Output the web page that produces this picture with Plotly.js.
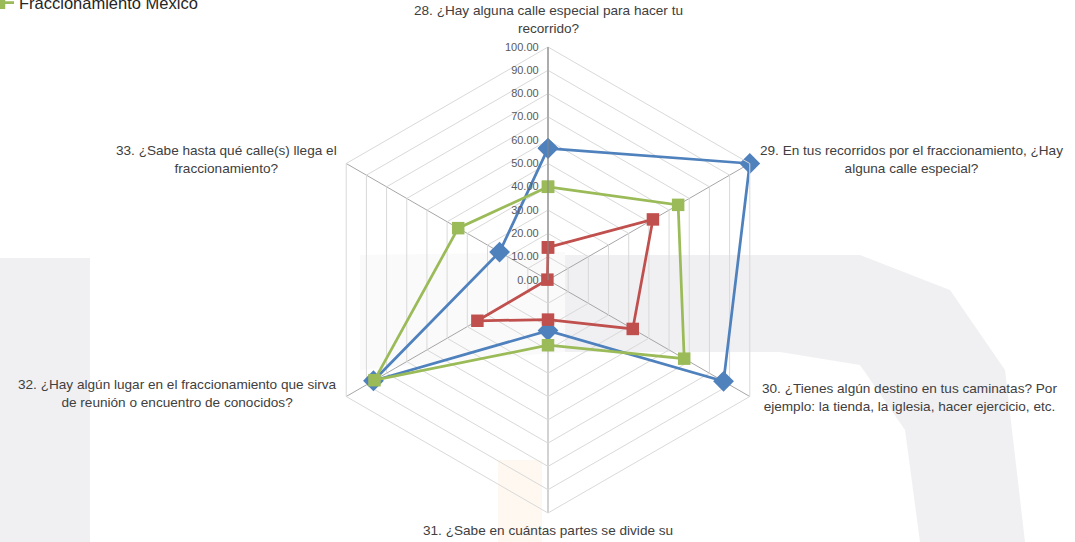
<!DOCTYPE html>
<html>
<head>
<meta charset="utf-8">
<script src="https://cdn.plot.ly/plotly-3.0.1.min.js"></script>
<style>html,body{margin:0;padding:0;background:#fff;}#chart{width:1075px;height:542px;}</style>
</head>
<body>
<div id="chart"></div>
<script>
// ---- data ----
const categories = [
  "28. ¿Hay alguna calle especial para hacer tu<br>recorrido?",
  "29. En tus recorridos por el fraccionamiento, ¿Hay<br>alguna calle especial?",
  "30. ¿Tienes algún destino en tus caminatas? Por<br>ejemplo: la tienda, la iglesia, hacer ejercicio, etc.",
  "31. ¿Sabe en cuántas partes se divide su",
  "32. ¿Hay algún lugar en el fraccionamiento que sirva<br>de reunión o encuentro de conocidos?",
  "33. ¿Sabe hasta qué calle(s) llega el<br>fraccionamiento?"
];
const seriesBlue  = [56.5, 100, 87, 21.7, 86.5, 24];
const seriesRed   = [14, 52, 42, 17, 35, 0.3];
const seriesGreen = [40, 64.5, 67.5, 28, 86, 44.5];
const greenName = "Fraccionamiento México";
const radialTicks = [0,10,20,30,40,50,60,70,80,90,100];

// ---- layout geometry ----
const W = 1075, H = 542;
const cx = 548, cy = 280, R = 233;

function closed(a){ return a.concat([a[0]]); }

const traces = [
  {type:'scatterpolar', mode:'lines+markers', r:closed(seriesBlue), theta:closed(categories),
   line:{color:'#4F81BD', width:2.75}, marker:{symbol:'diamond', size:16, color:'#4F81BD'},
   showlegend:false, name:'Serie 1', cliponaxis:false},
  {type:'scatterpolar', mode:'lines+markers', r:closed(seriesRed), theta:closed(categories),
   line:{color:'#C0504D', width:2.75}, marker:{symbol:'square', size:12.5, color:'#C0504D'},
   showlegend:false, name:'Serie 2', cliponaxis:false},
  {type:'scatterpolar', mode:'lines+markers', r:closed(seriesGreen), theta:closed(categories),
   line:{color:'#9BBB59', width:2.75}, marker:{symbol:'square', size:12.5, color:'#9BBB59'},
   showlegend:true, name:greenName, cliponaxis:false}
];

// label placement around the hexagon
const labelSpec = [
  {dx:0,   dy:-R-9,  xa:'center', ya:'bottom'},
  {dx:R*0.866+8, dy:-R*0.5-4, xa:'left', ya:'middle'},
  {dx:R*0.866+10, dy:R*0.5+1, xa:'left', ya:'middle'},
  {dx:0,   dy:R+8,  xa:'center', ya:'top'},
  {dx:-R*0.866-7, dy:R*0.5-3, xa:'right', ya:'middle'},
  {dx:-R*0.866-7, dy:-R*0.5-4, xa:'right', ya:'middle'}
];
const annotations = categories.map((c,i)=>({
  text:c, showarrow:false, xref:'paper', yref:'paper',
  x:(cx+labelSpec[i].dx)/W, y:1-(cy+labelSpec[i].dy)/H,
  xanchor:labelSpec[i].xa, yanchor:labelSpec[i].ya, align:'center',
  font:{family:'Liberation Sans, Arial, sans-serif', size:13.6, color:'#404040'}
}));

// faint background watermark (decorative)
function px(x){ return x/W; } function py(y){ return 1-y/H; }
function pathOf(pts){ return 'M' + pts.map(p=>px(p[0]).toFixed(4)+','+py(p[1]).toFixed(4)).join(' L') + ' Z'; }
const shapes = [
  {type:'rect', xref:'paper', yref:'paper', x0:px(0), x1:px(90), y0:py(542), y1:py(258),
   fillcolor:'rgba(205,205,215,0.30)', line:{width:0}, layer:'below'},
  {type:'path', xref:'paper', yref:'paper', layer:'below', line:{width:0},
   fillcolor:'rgba(200,200,212,0.28)',
   path:pathOf([[565,255],[860,255],[950,290],[1005,370],[1025,542],[920,542],[905,430],[860,365],[780,352],[565,352]])},
  {type:'path', xref:'paper', yref:'paper', layer:'below', line:{width:0},
   fillcolor:'rgba(215,215,225,0.12)',
   path:pathOf([[360,255],[565,252],[565,352],[470,360],[360,370]])},
  {type:'rect', xref:'paper', yref:'paper', x0:px(498), x1:px(542), y0:py(542), y1:py(460),
   fillcolor:'rgba(255,190,110,0.10)', line:{width:0}, layer:'below'}
];

const layout = {
  width:W, height:H,
  margin:{l:0,r:0,t:0,b:0, autoexpand:false},
  paper_bgcolor:'#ffffff',
  font:{family:'Liberation Sans, Arial, sans-serif', color:'#404040'},
  showlegend:true,
  legend:{x:-21/W, y:1-3/H, xanchor:'left', yanchor:'middle',
          font:{size:16.5, color:'#262626'}, bgcolor:'rgba(0,0,0,0)'},
  annotations:annotations,
  shapes:shapes,
  polar:{
    domain:{x:[(cx-R)/W,(cx+R)/W], y:[1-(cy+R)/H, 1-(cy-R)/H]},
    gridshape:'linear',
    bgcolor:'rgba(0,0,0,0)',
    radialaxis:{range:[0,100], tickvals:radialTicks, tickformat:'.2f', angle:90,
      side:'counterclockwise', tickangle:90,
      showline:true, linecolor:'#868686', linewidth:1,
      gridcolor:'#d9d9d9', gridwidth:1, ticks:'outside', ticklen:5, tickcolor:'rgba(0,0,0,0)',
      tickfont:{size:11, color:'#595959'}},
    angularaxis:{rotation:90, direction:'clockwise', showticklabels:false, ticks:'',
      gridcolor:'#a6a6a6', gridwidth:1, showline:true, linecolor:'#d9d9d9', linewidth:1}
  }
};

Plotly.newPlot('chart', traces, layout, {displayModeBar:false, staticPlot:true});
</script>
</body>
</html>
